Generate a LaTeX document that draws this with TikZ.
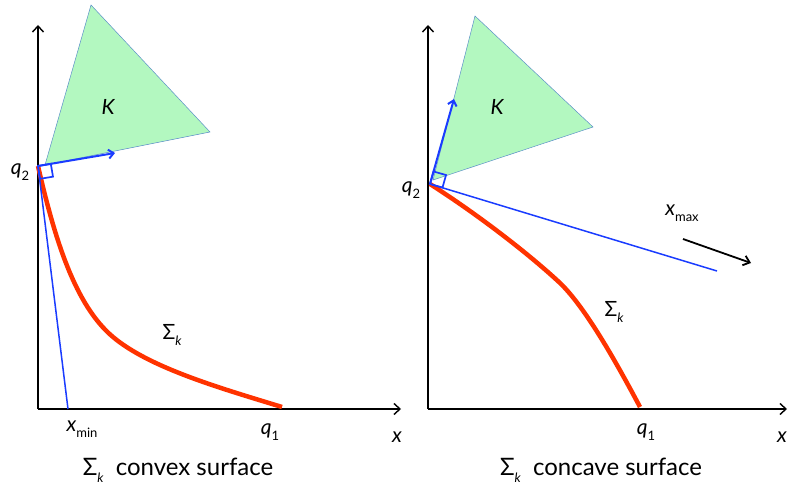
\documentclass[tikz,border=0pt]{standalone}
\usepackage{fontspec}
\setmainfont{Lato}
\usepackage{xcolor}
\usepackage{tikz}
\usetikzlibrary{arrows.meta,calc}

\definecolor{conegreen}{HTML}{B3F8C0}
\definecolor{coneedge}{HTML}{5B8FC8}
\definecolor{vecblue}{HTML}{1A3CFF}
\definecolor{surfred}{HTML}{FF3300}

%% Letter with a low small subscript
\newcommand{\lowsub}[2]{{\itshape #1}\raisebox{-0.55ex}{\fontsize{13}{13}\selectfont #2}}
\newcommand{\sigk}{Σ\raisebox{-0.6ex}{\fontsize{13}{13}\selectfont\itshape k}}

\begin{document}
\begin{tikzpicture}[x=1pt, y=-1pt,
  every node/.style={font=\fontsize{21}{24}\selectfont, inner sep=0pt},
  caption/.style={font=\fontsize{24}{28}\selectfont},
  axis/.style={line width=1.4pt, -{Straight Barb[length=6pt, width=11pt]}},
  cone/.style={fill=conegreen, draw=coneedge, line width=0.5pt},
  normalvec/.style={draw=vecblue, line width=2pt, -{Straight Barb[length=5pt, width=9pt]}},
  tangent/.style={draw=vecblue, line width=1.5pt},
  corner/.style={draw=vecblue, line width=1.7pt},
  surface/.style={draw=surfred, line width=4.5pt},
]
\useasboundingbox (0,0) rectangle (788,489);

%% Left panel: convex surface
\coordinate (O1) at (38,409);
\coordinate (Y1) at (38,25);
\coordinate (X1) at (401,409);
\coordinate (q2a) at (38,166);
\coordinate (n1) at (115,153);
\coordinate (xmin) at (68,409);
\coordinate (knee1) at (113,337);
\coordinate (q1a) at (282,407);

\draw[cone] (91,5) -- (210,132) -- (45,165) -- cycle;
\draw[axis] (O1) -- (Y1);
\draw[axis] (O1) -- (X1);

\draw[surface] (q2a) .. controls (55,240) and (75,305) .. (knee1)
  .. controls (150,368) and (220,388) .. (q1a);
\draw[tangent] (q2a) -- (xmin);
\draw[normalvec] (q2a) -- (n1);

% right angle mark
\coordinate (c1a) at ($(q2a)!13pt!(n1)$);
\coordinate (c1c) at ($(q2a)!13pt!-90:(n1)$);
\draw[corner] (q2a) -- (c1a) -- ($(c1a)+(c1c)-(q2a)$) -- (c1c) -- cycle;

\node (Kl) at (108,107) {\itshape K};
\node (q2l) at (20,172) {\lowsub{q}{2}};
\node (sigl) at (172,335) {\sigk};
\node (xminl) at (82,429) {\lowsub{x}{min}};
\node (q1l) at (270,432) {\lowsub{q}{1}};
\node (xl) at (397,437) {\itshape x};
\node[caption] (capl) at (178,470) {\sigk\ \ convex surface};

%% Right panel: concave surface
\coordinate (O2) at (428,409);
\coordinate (Y2) at (428,25);
\coordinate (X2) at (787,409);
\coordinate (q2b) at (430,184);
\coordinate (n2) at (454,99);
\coordinate (xmax) at (717,271);
\coordinate (knee2) at (560,283);
\coordinate (q1b) at (640,407);
\coordinate (xa) at (683,239);
\coordinate (xb) at (751,263);

\draw[cone] (475,16) -- (593,127) -- (433,180) -- cycle;
\draw[axis] (O2) -- (Y2);
\draw[axis] (O2) -- (X2);

\draw[surface] (q2b) .. controls (480,216) and (530,255) .. (knee2)
  .. controls (585,307) and (615,360) .. (q1b);
\draw[tangent] (q2b) -- (xmax);
\draw[normalvec] (q2b) -- (n2);

% right angle mark
\coordinate (c2a) at ($(q2b)!13pt!(n2)$);
\coordinate (c2c) at ($(q2b)!13pt!-90:(n2)$);
\draw[corner] (q2b) -- (c2a) -- ($(c2a)+(c2c)-(q2b)$) -- (c2c) -- cycle;

\draw[line width=1.8pt, -{Straight Barb[length=6pt, width=10pt]}] (xa) -- (xb);

\node (Kr) at (497,107) {\itshape K};
\node (q2r) at (411,190) {\lowsub{q}{2}};
\node (sigr) at (614,312) {\sigk};
\node (xmaxl) at (682,213) {\lowsub{x}{max}};
\node (q1r) at (646,432) {\lowsub{q}{1}};
\node (xr) at (782,437) {\itshape x};
\node[caption] (capr) at (601,470) {\sigk\ \ concave surface};

\end{tikzpicture}
\end{document}
